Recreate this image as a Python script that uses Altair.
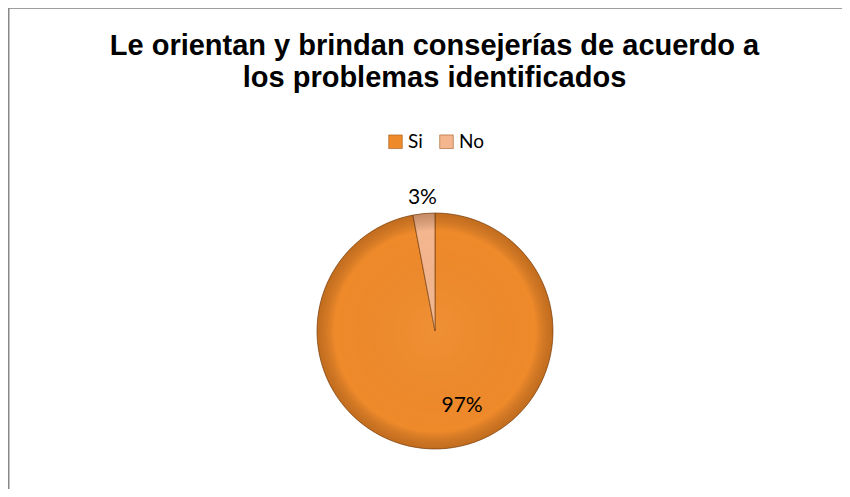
import altair as alt
import pandas as pd

categories = ["Si", "No"]
values = [97, 3]
labels = ["97%", "3%"]
colors = ["#EF8A2B", "#F4B68E"]
title_lines = ["Le orientan y brindan consejerías de acuerdo a", "los problemas identificados"]

df = pd.DataFrame({"category": categories, "value": values, "label": labels, "idx": [0, 1]})

W, H = 834, 481
CX, CY, R = 427, 323, 118

base = alt.Chart(df).encode(
    theta=alt.Theta("value:Q", stack=True),
    order=alt.Order("idx:Q"),
)

pie = base.mark_arc(outerRadius=R, stroke="#7a4010", strokeWidth=0.7).encode(
    x=alt.value(CX), y=alt.value(CY),
    color=alt.Color(
        "category:N",
        scale=alt.Scale(domain=categories, range=colors),
        sort=categories,
        legend=alt.Legend(
            title=None, orient="none", legendX=378, legendY=124, direction="horizontal",
            symbolType="square", symbolSize=185, symbolStrokeColor="#a05a1e", symbolStrokeWidth=0.6,
            labelFont="Lato", labelFontSize=19, labelColor="#000000", columnPadding=14,
            labelOffset=3, padding=0,
        ),
    ),
)

one = pd.DataFrame({"v": [1]})
shade = alt.Chart(one).mark_arc(
    outerRadius=R, theta=0, theta2=6.2832,
    fill=alt.RadialGradient(
        gradient="radial",
        stops=[
            alt.GradientStop(offset=0, color="rgba(255,255,255,0.05)"),
            alt.GradientStop(offset=0.85, color="rgba(0,0,0,0)"),
            alt.GradientStop(offset=1, color="rgba(90,40,0,0.30)"),
        ],
    ),
).encode(x=alt.value(CX), y=alt.value(CY))

lab_big = base.transform_calculate(t="datum.category == 'Si' ? datum.label : ''").mark_text(
    radius=75, dx=20, font="Lato", fontSize=21, color="#000000"
).encode(x=alt.value(CX), y=alt.value(CY), text="t:N")

lab_small = base.transform_calculate(t="datum.category == 'No' ? datum.label : ''").mark_text(
    radius=134, font="Lato", fontSize=21, color="#000000"
).encode(x=alt.value(CX), y=alt.value(CY), text="t:N")

title = alt.Chart(one).mark_text(
    text=title_lines, font="Liberation Sans", fontSize=29, fontWeight="bold",
    lineHeight=32, baseline="alphabetic", align="center", color="#000000",
).encode(x=alt.value(426.5), y=alt.value(47))

border_left = alt.Chart(one).mark_rule(color="#888888", strokeWidth=1.5).encode(
    x=alt.value(0.75), y=alt.value(0), y2=alt.value(H)
)
border_top = alt.Chart(one).mark_rule(color="#888888", strokeWidth=1.5).encode(
    x=alt.value(0), x2=alt.value(W), y=alt.value(0)
)

chart = alt.layer(pie, shade, lab_big, lab_small, title, border_left, border_top).properties(
    width=W, height=H, autosize=alt.AutoSizeParams(type="none"), padding=0,
).configure_view(stroke=None).configure(background="white")

chart.save("out.html", embed_options={"renderer": "svg", "actions": False})
